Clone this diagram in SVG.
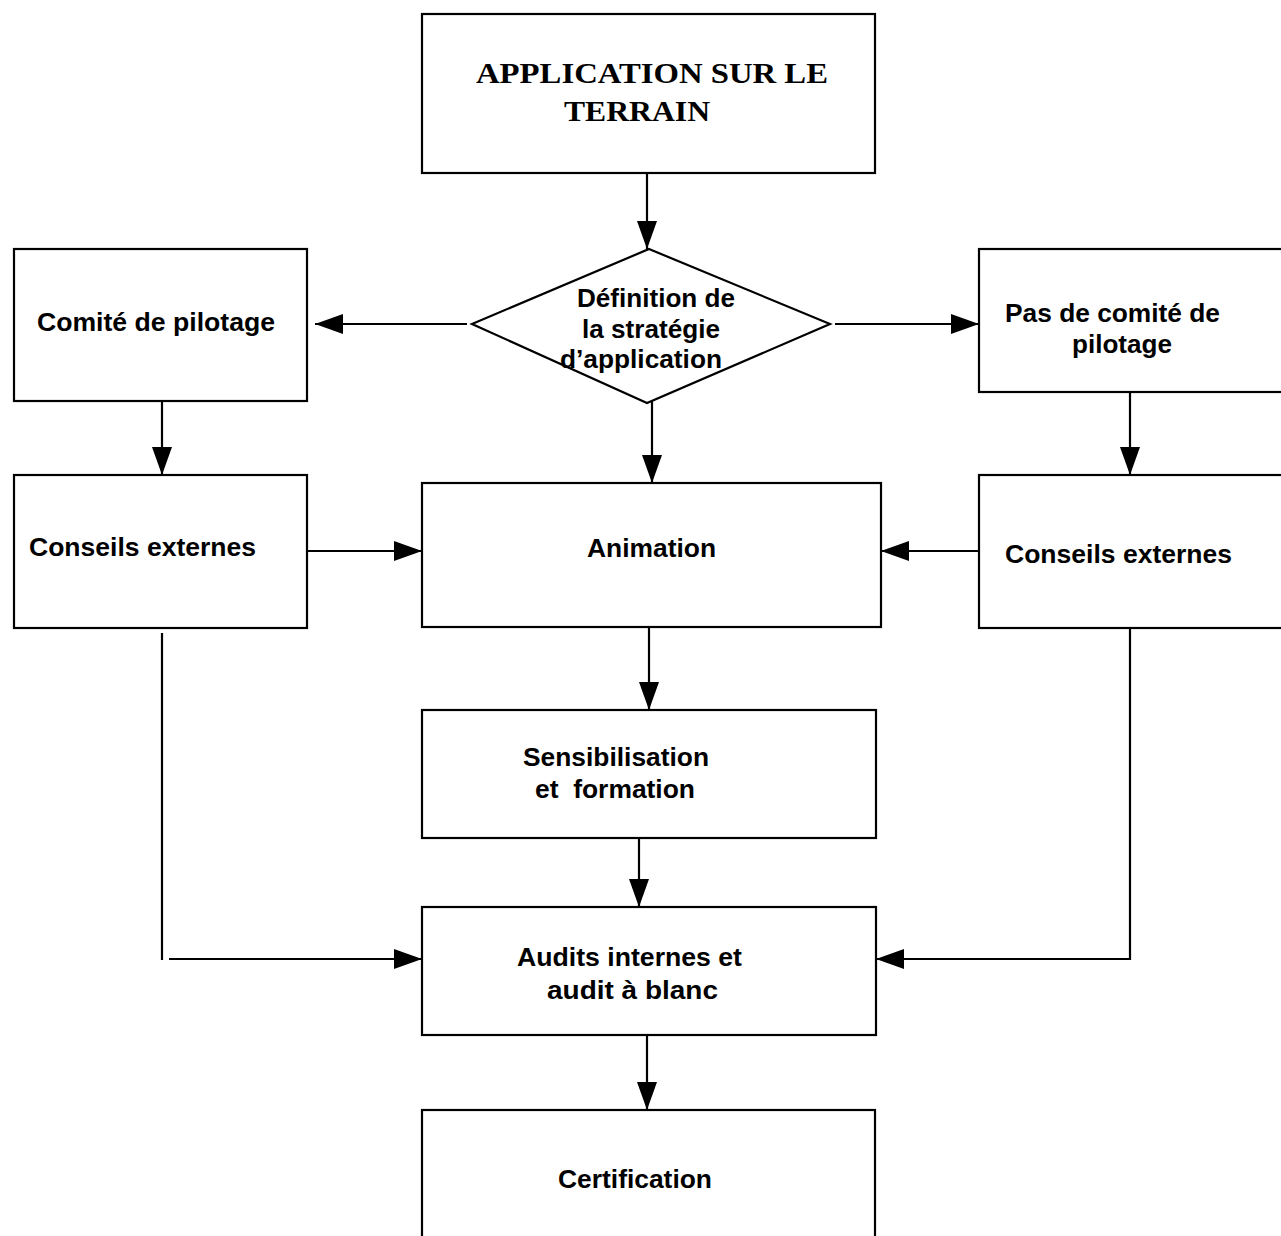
<svg xmlns="http://www.w3.org/2000/svg" width="1281" height="1236" viewBox="0 0 1281 1236">
<style>
.box{fill:#fff;stroke:#000;stroke-width:2.2}
.t{font-family:"Liberation Sans",Arial,sans-serif;font-weight:bold;font-size:25px;fill:#000}
.s{font-family:"Liberation Serif","Times New Roman",serif;font-weight:bold;font-size:30px;fill:#000}
.c{fill:none;stroke:#000;stroke-width:2.2}
.pre{white-space:pre}
</style>
<defs>
<marker id="ah" markerUnits="userSpaceOnUse" markerWidth="28" markerHeight="20" refX="28" refY="10" orient="auto">
<path d="M0,0 L28,10 L0,20 z" fill="#000"/>
</marker>
</defs>
<rect width="1281" height="1236" fill="#fff"/>
<g id="connectors">
<path class="c" d="M647,173 L647,249" marker-end="url(#ah)"/>
<path class="c" d="M467,324 L315,324" marker-end="url(#ah)"/>
<path class="c" d="M835,324 L979,324" marker-end="url(#ah)"/>
<path class="c" d="M652,400 L652,483" marker-end="url(#ah)"/>
<path class="c" d="M162,401 L162,475" marker-end="url(#ah)"/>
<path class="c" d="M1130,392 L1130,475" marker-end="url(#ah)"/>
<path class="c" d="M307,551 L422,551" marker-end="url(#ah)"/>
<path class="c" d="M979,551 L881,551" marker-end="url(#ah)"/>
<path class="c" d="M649,627 L649,710" marker-end="url(#ah)"/>
<path class="c" d="M639,838 L639,907" marker-end="url(#ah)"/>
<path class="c" d="M162,633 L162,960"/>
<path class="c" d="M169,959 L422,959" marker-end="url(#ah)"/>
<path class="c" d="M1130,628 L1130,959 L876,959" marker-end="url(#ah)"/>
<path class="c" d="M647,1035 L647,1110" marker-end="url(#ah)"/>
</g>
<g id="n-top">
<rect class="box" x="422" y="14" width="453" height="159"/>
<text class="s" x="476" y="83" textLength="352" lengthAdjust="spacingAndGlyphs">APPLICATION SUR LE</text>
<text class="s" x="564" y="121" textLength="146" lengthAdjust="spacingAndGlyphs">TERRAIN</text>
</g>
<g id="n-definition">
<polygon class="box" points="649,249 830,324 647,403 472,324"/>
<text class="t" x="577" y="307" textLength="158" lengthAdjust="spacingAndGlyphs">Définition de</text>
<text class="t" x="582" y="338" textLength="138" lengthAdjust="spacingAndGlyphs">la stratégie</text>
<text class="t" x="560" y="368" textLength="162" lengthAdjust="spacingAndGlyphs">d’application</text>
</g>
<g id="n-comite">
<rect class="box" x="14" y="249" width="293" height="152"/>
<text class="t" x="37" y="331" textLength="238" lengthAdjust="spacingAndGlyphs">Comité de pilotage</text>
</g>
<g id="n-pas-comite">
<rect class="box" x="979" y="249" width="320" height="143"/>
<text class="t" x="1005" y="322" textLength="215" lengthAdjust="spacingAndGlyphs">Pas de comité de</text>
<text class="t" x="1072" y="353" textLength="100" lengthAdjust="spacingAndGlyphs">pilotage</text>
</g>
<g id="n-conseils-left">
<rect class="box" x="14" y="475" width="293" height="153"/>
<text class="t" x="29" y="556" textLength="227" lengthAdjust="spacingAndGlyphs">Conseils externes</text>
</g>
<g id="n-conseils-right">
<rect class="box" x="979" y="475" width="320" height="153"/>
<text class="t" x="1005" y="563" textLength="227" lengthAdjust="spacingAndGlyphs">Conseils externes</text>
</g>
<g id="n-animation">
<rect class="box" x="422" y="483" width="459" height="144"/>
<text class="t" x="587" y="557" textLength="129" lengthAdjust="spacingAndGlyphs">Animation</text>
</g>
<g id="n-sensibilisation">
<rect class="box" x="422" y="710" width="454" height="128"/>
<text class="t" x="523" y="766" textLength="186" lengthAdjust="spacingAndGlyphs">Sensibilisation</text>
<text class="t pre" x="535" y="798" textLength="160" lengthAdjust="spacingAndGlyphs">et  formation</text>
</g>
<g id="n-audits">
<rect class="box" x="422" y="907" width="454" height="128"/>
<text class="t" x="517" y="966" textLength="225" lengthAdjust="spacingAndGlyphs">Audits internes et</text>
<text class="t" x="547" y="999" textLength="171" lengthAdjust="spacingAndGlyphs">audit à blanc</text>
</g>
<g id="n-certification">
<rect class="box" x="422" y="1110" width="453" height="140"/>
<text class="t" x="558" y="1188" textLength="154" lengthAdjust="spacingAndGlyphs">Certification</text>
</g>
</svg>
